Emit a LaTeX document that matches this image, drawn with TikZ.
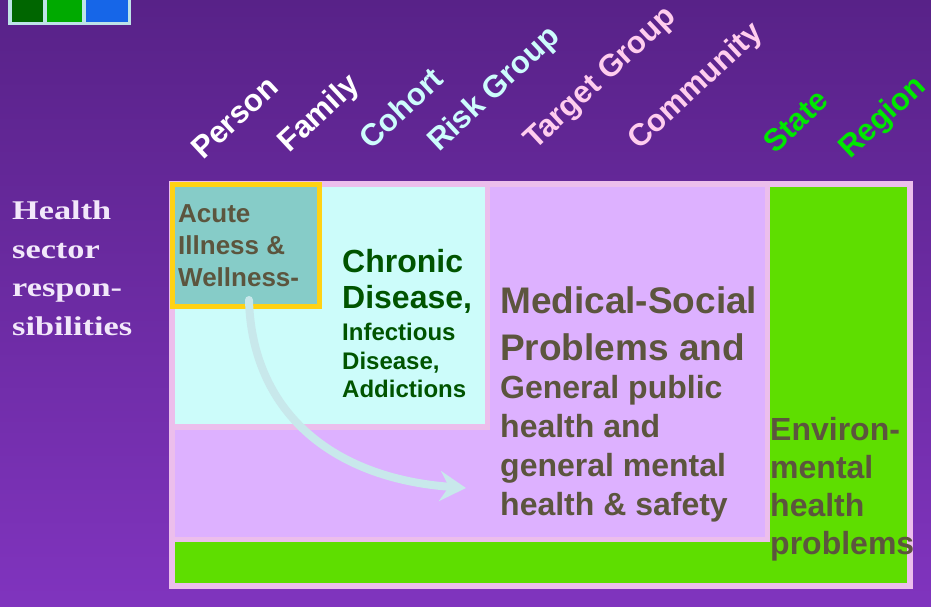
\documentclass[tikz,border=0pt]{standalone}
\usepackage{fontspec}
\setmainfont{Liberation Sans}
\newfontfamily\hsfont[FakeStretch=1.27]{Liberation Serif}
\usetikzlibrary{arrows.meta}
\definecolor{bgtop}{RGB}{88,34,136}
\definecolor{bgbot}{RGB}{128,52,190}
\definecolor{pinkb}{RGB}{236,190,236}
\definecolor{grn}{RGB}{94,222,0}
\definecolor{lav}{RGB}{221,177,255}
\definecolor{cyanbox}{RGB}{204,252,250}
\definecolor{tealbox}{RGB}{134,204,200}
\definecolor{yel}{RGB}{255,210,20}
\definecolor{olive}{RGB}{92,85,62}
\definecolor{dkgreen}{RGB}{0,84,0}
\definecolor{arrowc}{RGB}{200,232,235}
\definecolor{hswhite}{RGB}{242,232,250}
\definecolor{lcyan}{RGB}{205,252,252}
\definecolor{lpink}{RGB}{255,205,238}
\definecolor{lgreen}{RGB}{0,232,0}
\definecolor{swborder}{RGB}{190,228,232}
\definecolor{sw1}{RGB}{0,102,0}
\definecolor{sw2}{RGB}{0,170,0}
\definecolor{sw3}{RGB}{22,102,232}
\begin{document}
\begin{tikzpicture}[x=1pt,y=-1pt,
  txt/.style={inner sep=0pt, anchor=north west, align=left, font=\bfseries},
  axis/.style={inner sep=0pt, anchor=base west, rotate=43, font=\bfseries\fontsize{31}{31}\selectfont}]
\useasboundingbox (0,0) rectangle (931,607);
\shade[top color=bgtop,bottom color=bgbot] (0,0) rectangle (931,607);
% swatches
\fill[swborder] (8,0) rectangle (131,25);
\fill[sw1] (12,0) rectangle (43,22);
\fill[sw2] (47,0) rectangle (82,22);
\fill[sw3] (86,0) rectangle (128,22);
% frame and green
\fill[pinkb] (169,181) rectangle (913,589);
\fill[grn] (175,187) rectangle (907,583);
% lavender region
\fill[pinkb] (170,182) rectangle (770,542);
\fill[lav] (175,187) rectangle (765,537);
% cyan region
\fill[pinkb] (170,182) rectangle (490,430);
\fill[cyanbox] (175,187) rectangle (485,424);
% acute box
\node[draw=yel, line width=5pt, fill=tealbox, inner sep=0pt, outer sep=0pt, anchor=north west,
  minimum width=147pt, minimum height=122pt] (acute) at (172.5,184.5) {};
% arrow
\coordinate (as) at (249,300);
\coordinate (ae) at (466,488);
\draw[arrowc, line width=8pt, line cap=round, -{Stealth[length=26pt,width=30pt,inset=9pt]}]
  (as) .. controls (252,410) and (330,478) .. (ae);
% left label
\node[inner sep=0pt, anchor=north west, align=left, text=hswhite,
  font=\hsfont\bfseries\fontsize{27}{38.5}\selectfont] (hs) at (12,201)
  {Health\\sector\\respon-\\sibilities};
% box texts
\node[txt, text=olive, font=\bfseries\fontsize{26}{32}\selectfont] (acutet) at (178,204)
  {Acute\\Illness \&\\Wellness-};
\node[txt, text=dkgreen, font=\bfseries\fontsize{32}{36}\selectfont] (chron) at (342,249)
  {Chronic\\Disease,};
\node[txt, text=dkgreen, font=\bfseries\fontsize{24}{28.5}\selectfont] (infec) at (342,323)
  {Infectious\\Disease,\\Addictions};
\node[txt, text=olive, font=\bfseries\fontsize{37}{47}\selectfont] (med) at (500,286)
  {Medical-Social\\Problems and};
\node[txt, text=olive, font=\bfseries\fontsize{32}{39}\selectfont] (gen) at (500,375)
  {General public\\health and\\general mental\\health \& safety};
\node[txt, text=olive, font=\bfseries\fontsize{32}{38}\selectfont] (env) at (770,417)
  {Environ-\\mental\\health\\problems};
% axis labels
\node[axis, text=white] (person) at (203,161) {Person};
\node[axis, text=white] (family) at (289,154) {Family};
\node[axis, text=lcyan] (cohort) at (371,151) {Cohort};
\node[axis, text=lcyan] (risk) at (439,153) {Risk Group};
\node[axis, text=lpink] (target) at (535,151) {Target Group};
\node[axis, text=lpink] (comm) at (639,151) {Community};
\node[axis, text=lgreen] (state) at (775,155) {State};
\node[axis, text=lgreen] (region) at (850,160) {Region};
\end{tikzpicture}
\end{document}
